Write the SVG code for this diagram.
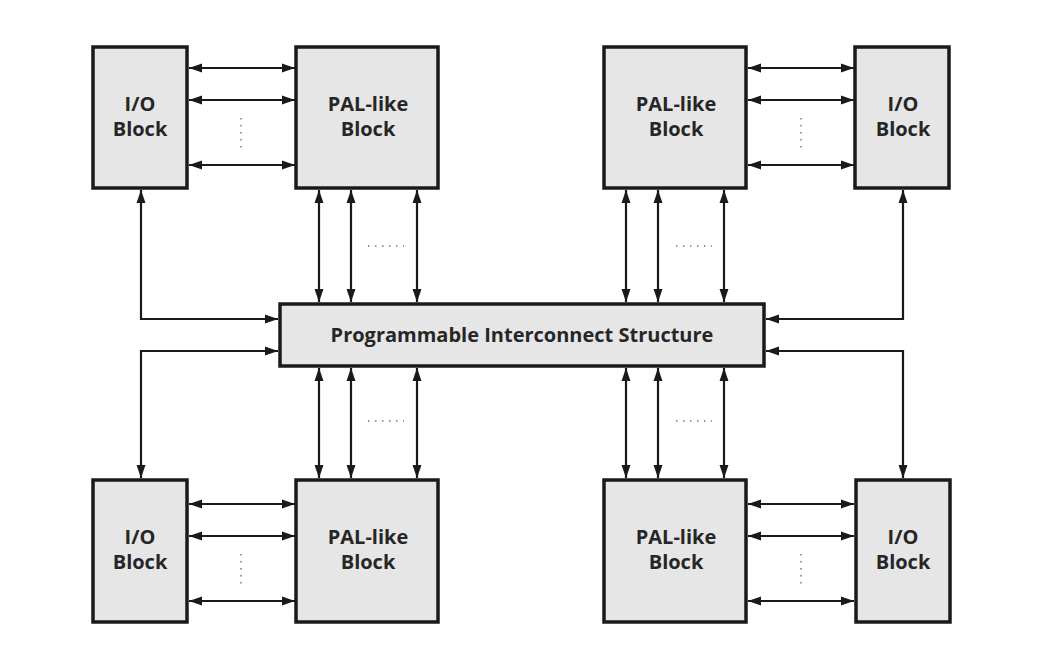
<svg xmlns="http://www.w3.org/2000/svg" width="1038" height="662" viewBox="0 0 1038 662">
<defs>
<marker id="ah" markerUnits="userSpaceOnUse" markerWidth="15" markerHeight="10" refX="13" refY="5" orient="auto-start-reverse">
<path d="M0,0.5 L13,5 L0,9.5 z" fill="#1a1a1a"/>
</marker>
</defs>
<style>
.blk{fill:#e6e6e6;stroke:#1a1a1a;stroke-width:3.5}
.lbl{font-family:"Open Sans","DejaVu Sans",sans-serif;font-weight:700;font-size:20px;fill:#262626;text-anchor:middle}
.con{fill:none;stroke:#1a1a1a;stroke-width:2.2;marker-start:url(#ah);marker-end:url(#ah)}
.dots{fill:none;stroke:#999;stroke-width:2;stroke-dasharray:1.5 5.5}
</style>
<rect width="1038" height="662" fill="#ffffff"/>
<g id="connectors">
<line class="con" x1="189" y1="68" x2="295" y2="68"/>
<line class="con" x1="189" y1="100" x2="295" y2="100"/>
<line class="con" x1="189" y1="165" x2="295" y2="165"/>
<line class="con" x1="748" y1="68" x2="854" y2="68"/>
<line class="con" x1="748" y1="100" x2="854" y2="100"/>
<line class="con" x1="748" y1="165" x2="854" y2="165"/>
<line class="con" x1="189" y1="504" x2="295" y2="504"/>
<line class="con" x1="189" y1="536" x2="295" y2="536"/>
<line class="con" x1="189" y1="601" x2="295" y2="601"/>
<line class="con" x1="748" y1="504" x2="854" y2="504"/>
<line class="con" x1="748" y1="536" x2="854" y2="536"/>
<line class="con" x1="748" y1="601" x2="854" y2="601"/>
<line class="con" x1="319" y1="190" x2="319" y2="302"/>
<line class="con" x1="351" y1="190" x2="351" y2="302"/>
<line class="con" x1="417" y1="190" x2="417" y2="302"/>
<line class="con" x1="626" y1="190" x2="626" y2="302"/>
<line class="con" x1="658" y1="190" x2="658" y2="302"/>
<line class="con" x1="724" y1="190" x2="724" y2="302"/>
<line class="con" x1="319" y1="368" x2="319" y2="478"/>
<line class="con" x1="351" y1="368" x2="351" y2="478"/>
<line class="con" x1="417" y1="368" x2="417" y2="478"/>
<line class="con" x1="626" y1="368" x2="626" y2="478"/>
<line class="con" x1="658" y1="368" x2="658" y2="478"/>
<line class="con" x1="724" y1="368" x2="724" y2="478"/>
<path class="con" d="M141 190 V319 H278"/>
<path class="con" d="M278 351 H141 V478"/>
<path class="con" d="M903 190 V319 H766"/>
<path class="con" d="M766 351 H903 V478"/>
<line class="dots" x1="241" y1="118" x2="241" y2="152"/>
<line class="dots" x1="801" y1="118" x2="801" y2="152"/>
<line class="dots" x1="241" y1="554" x2="241" y2="588"/>
<line class="dots" x1="801" y1="554" x2="801" y2="588"/>
<line class="dots" x1="368" y1="246" x2="404" y2="246"/>
<line class="dots" x1="676" y1="246" x2="712" y2="246"/>
<line class="dots" x1="368" y1="421" x2="404" y2="421"/>
<line class="dots" x1="676" y1="421" x2="712" y2="421"/>
</g>
<g id="io-tl"><rect class="blk" x="93" y="47" width="94" height="141"/><text class="lbl" x="140" y="111">I/O</text><text class="lbl" x="140" y="136">Block</text></g>
<g id="pal-tl"><rect class="blk" x="296" y="47" width="142" height="141"/><text class="lbl" x="368" y="111">PAL-like</text><text class="lbl" x="368" y="136">Block</text></g>
<g id="pal-tr"><rect class="blk" x="604" y="47" width="142" height="141"/><text class="lbl" x="676" y="111">PAL-like</text><text class="lbl" x="676" y="136">Block</text></g>
<g id="io-tr"><rect class="blk" x="855" y="47" width="94" height="141"/><text class="lbl" x="903" y="111">I/O</text><text class="lbl" x="903" y="136">Block</text></g>
<g id="interconnect"><rect class="blk" x="280" y="304" width="484" height="62"/><text class="lbl" x="522" y="342">Programmable Interconnect Structure</text></g>
<g id="io-bl"><rect class="blk" x="93" y="480" width="94" height="142"/><text class="lbl" x="140" y="544">I/O</text><text class="lbl" x="140" y="569">Block</text></g>
<g id="pal-bl"><rect class="blk" x="296" y="480" width="142" height="142"/><text class="lbl" x="368" y="544">PAL-like</text><text class="lbl" x="368" y="569">Block</text></g>
<g id="pal-br"><rect class="blk" x="604" y="480" width="142" height="142"/><text class="lbl" x="676" y="544">PAL-like</text><text class="lbl" x="676" y="569">Block</text></g>
<g id="io-br"><rect class="blk" x="856" y="480" width="94" height="142"/><text class="lbl" x="903" y="544">I/O</text><text class="lbl" x="903" y="569">Block</text></g>
</svg>
